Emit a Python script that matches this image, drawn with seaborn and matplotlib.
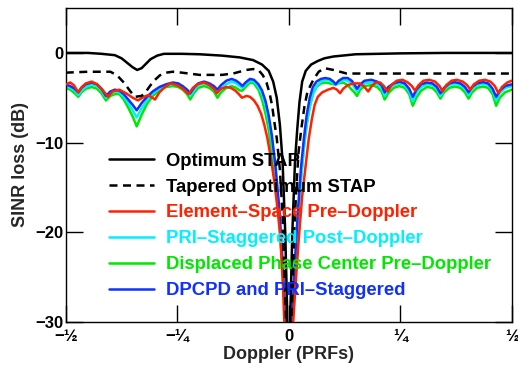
import matplotlib
matplotlib.use("Agg")
import matplotlib.pyplot as plt
import seaborn as sns
import pandas as pd

# Doppler (PRFs) / SINR loss (dB)
opt_f = [-0.5, -0.45, -0.42, -0.39, -0.375, -0.36, -0.35, -0.34, -0.33, -0.32, -0.31, -0.295, -0.28,
         -0.24, -0.2, -0.15, -0.11, -0.08, -0.06, -0.045, -0.035, -0.027, -0.02, -0.014, -0.008, -0.004,
         0.0, 0.004, 0.008, 0.014, 0.019, 0.024, 0.03, 0.038, 0.05, 0.065, 0.08, 0.1, 0.15, 0.25, 0.35, 0.5]
opt_db = [0.0, 0.0, -0.1, -0.25, -0.6, -1.2, -1.6, -1.9, -1.7, -1.2, -0.7, -0.3, -0.1,
          -0.1, -0.15, -0.3, -0.5, -0.8, -1.3, -2.0, -3.2, -5.0, -8.0, -12.0, -20.0, -28.0,
          -40.0, -28.0, -20.0, -12.0, -8.5, -5.5, -3.2, -2.0, -1.3, -0.9, -0.6, -0.4, -0.15, -0.05, 0.0, 0.0]

tap_f = [-0.5, -0.45, -0.40, -0.385, -0.37, -0.355, -0.345, -0.33, -0.32, -0.31, -0.3, -0.289, -0.275,
         -0.26, -0.24, -0.2, -0.15, -0.125, -0.11, -0.095, -0.08, -0.068, -0.058, -0.05, -0.043, -0.037,
         -0.033, -0.027, -0.02, -0.014, -0.006, 0.0, 0.006, 0.012, 0.017, 0.022, 0.028, 0.035, 0.042,
         0.055, 0.067, 0.08, 0.1, 0.13, 0.2, 0.3, 0.4, 0.5]
tap_db = [-2.2, -2.1, -2.1, -2.5, -3.3, -4.3, -4.9, -4.8, -4.3, -3.6, -3.0, -2.5, -2.2,
          -2.1, -2.2, -2.45, -2.45, -2.3, -2.1, -1.9, -1.8, -1.9, -2.5, -3.3, -4.5, -6.0,
          -7.5, -9.5, -13.0, -18.0, -30.0, -40.0, -30.0, -20.0, -15.0, -11.0, -8.5, -6.0, -4.3,
          -3.0, -2.1, -1.7, -1.9, -2.3, -2.3, -2.3, -2.3, -2.3]

es_f = [-0.5, -0.49, -0.482, -0.472, -0.464, -0.455, -0.442, -0.43, -0.418, -0.405, -0.395, -0.38,
        -0.365, -0.35, -0.338, -0.325, -0.315, -0.3, -0.29, -0.278, -0.265, -0.25, -0.237, -0.225,
        -0.215, -0.205, -0.19, -0.178, -0.168, -0.162, -0.152, -0.14, -0.13, -0.12, -0.112, -0.105,
        -0.095, -0.087, -0.078, -0.07, -0.062, -0.055, -0.048, -0.04, -0.032, -0.025, -0.019, -0.013,
        -0.01, -0.004,
        0.004, 0.01, 0.015, 0.022, 0.03, 0.038, 0.045, 0.052, 0.058, 0.065, 0.075, 0.088, 0.1, 0.108,
        0.115, 0.122, 0.132, 0.145, 0.158, 0.168, 0.178, 0.186, 0.195, 0.205, 0.213, 0.222, 0.23,
        0.242, 0.255, 0.267, 0.276, 0.283, 0.291, 0.302, 0.315, 0.328, 0.338, 0.345, 0.353, 0.365,
        0.377, 0.39, 0.4, 0.407, 0.415, 0.427, 0.44, 0.452, 0.462, 0.47, 0.478, 0.49, 0.5]
es_db = [-3.5, -3.3, -3.6, -4.4, -3.8, -3.4, -3.2, -3.5, -4.1, -4.9, -4.3, -4.1,
         -4.5, -5.0, -5.3, -4.9, -4.7, -5.2, -4.4, -3.8, -3.4, -3.6, -4.0, -4.6,
         -3.9, -3.5, -3.3, -3.6, -4.0, -4.5, -4.0, -3.8, -3.9, -4.2, -4.6, -5.0,
         -4.8, -4.9, -5.3, -5.9, -6.8, -8.0, -9.5, -11.8, -14.5, -17.5, -20.5, -26.0,
         -30.0, -40.0,
         -40.0, -30.0, -26.0, -21.0, -16.0, -12.5, -9.5, -7.3, -5.8, -4.9, -4.4, -4.1, -3.9, -4.1,
         -4.5, -4.0, -3.6, -3.4, -3.4, -3.7, -4.3, -3.7, -3.3, -3.3, -3.7, -4.3, -3.6,
         -3.1, -3.0, -3.3, -3.7, -4.2, -3.6, -3.1, -3.0, -3.2, -3.7, -4.3, -3.6, -3.1,
         -3.0, -3.2, -3.6, -4.1, -3.5, -3.1, -3.0, -3.2, -3.7, -4.5, -3.8, -3.3, -3.1]

# shared frequency grid for the three remaining adaptive methods
pd_f = [-0.5, -0.49, -0.48, -0.472, -0.465, -0.455, -0.442, -0.43, -0.42, -0.41, -0.40, -0.39,
        -0.38, -0.37, -0.36, -0.35, -0.341, -0.33, -0.318, -0.305, -0.29, -0.275, -0.26, -0.248,
        -0.238, -0.228, -0.221, -0.213, -0.203, -0.19, -0.178, -0.168, -0.16, -0.152, -0.14, -0.128,
        -0.118, -0.11, -0.104, -0.097, -0.087, -0.078, -0.068, -0.06, -0.052, -0.045, -0.038, -0.03,
        -0.021, -0.013, -0.008, -0.003,
        0.003, 0.008, 0.013, 0.02, 0.027, 0.034, 0.04, 0.047, 0.054, 0.062, 0.072, 0.082, 0.092,
        0.1, 0.105, 0.112, 0.122, 0.132, 0.141, 0.147, 0.153, 0.16, 0.17, 0.185, 0.198, 0.208,
        0.215, 0.223, 0.235, 0.248, 0.26, 0.27, 0.278, 0.286, 0.297, 0.31, 0.322, 0.332, 0.34,
        0.348, 0.36, 0.372, 0.385, 0.395, 0.403, 0.411, 0.422, 0.435, 0.447, 0.457, 0.465, 0.473,
        0.485, 0.5]
dpcpd_db = [-3.5, -3.7, -4.0, -4.4, -3.9, -3.5, -3.3, -3.5, -4.0, -4.8, -4.3, -4.1,
            -4.2, -4.6, -5.2, -5.8, -6.4, -5.6, -4.9, -4.3, -3.8, -3.5, -3.3, -3.4,
            -3.7, -4.1, -4.5, -3.9, -3.4, -3.2, -3.4, -3.7, -4.1, -3.6, -3.1, -2.9,
            -3.1, -3.4, -3.7, -3.3, -2.9, -3.0, -3.5, -4.2, -5.4, -7.0, -9.2, -12.5,
            -17.5, -24.0, -30.0, -40.0,
            -40.0, -30.0, -24.0, -18.0, -13.0, -9.5, -7.0, -5.0, -3.8, -3.2, -2.9, -2.8, -2.9,
            -3.2, -3.5, -3.1, -2.8, -2.8, -3.1, -3.5, -4.0, -3.5, -3.1, -3.0, -3.2, -3.6,
            -4.4, -3.8, -3.4, -3.2, -3.4, -4.0, -4.9, -4.1, -3.5, -3.3, -3.4, -3.8, -4.5,
            -3.9, -3.4, -3.25, -3.4, -3.8, -4.4, -3.8, -3.4, -3.25, -3.4, -4.0, -4.9, -4.2,
            -3.7, -3.5]
pri_db = [-3.7, -3.9, -4.2, -4.7, -4.2, -3.8, -3.5, -3.7, -4.2, -5.0, -4.5, -4.3,
          -4.4, -4.9, -5.6, -6.4, -7.2, -6.2, -5.3, -4.5, -4.0, -3.6, -3.5, -3.6,
          -3.9, -4.3, -4.8, -4.2, -3.6, -3.4, -3.6, -4.0, -4.5, -4.0, -3.5, -3.2,
          -3.4, -3.7, -3.9, -3.5, -3.1, -3.2, -3.8, -4.6, -5.9, -7.6, -9.8, -13.0,
          -18.5, -25.0, -30.0, -40.0,
          -40.0, -30.0, -25.0, -19.0, -14.5, -10.5, -8.0, -6.0, -4.6, -3.7, -3.2, -3.0, -3.1,
          -3.4, -3.6, -3.3, -3.0, -3.1, -3.4, -3.8, -4.3, -3.8, -3.4, -3.3, -3.5, -3.9,
          -4.8, -4.1, -3.6, -3.4, -3.6, -4.3, -5.4, -4.5, -3.8, -3.5, -3.6, -4.0, -4.8,
          -4.1, -3.6, -3.45, -3.6, -4.0, -4.7, -4.0, -3.6, -3.45, -3.6, -4.2, -5.3, -4.5,
          -3.9, -3.7]
dpc_db = [-3.9, -4.1, -4.5, -4.9, -4.4, -4.0, -3.8, -4.0, -4.5, -5.3, -4.8, -4.6,
          -4.6, -5.2, -6.1, -7.1, -8.2, -6.9, -5.7, -4.8, -4.2, -3.8, -3.7, -3.8,
          -4.1, -4.6, -5.2, -4.5, -3.9, -3.7, -3.9, -4.3, -5.0, -4.4, -3.9, -3.7,
          -3.9, -4.2, -4.2, -3.8, -3.3, -3.4, -4.1, -5.2, -6.8, -8.6, -11.0, -14.0,
          -19.0, -25.0, -30.0, -40.0,
          -40.0, -30.0, -25.0, -19.0, -14.0, -10.5, -8.0, -6.0, -4.6, -3.8, -3.4, -3.3, -3.4,
          -3.5, -3.5, -3.4, -3.3, -3.6, -4.1, -4.4, -4.8, -4.1, -3.7, -3.6, -3.8, -4.3,
          -5.2, -4.5, -3.9, -3.7, -3.9, -4.6, -5.9, -5.0, -4.2, -3.8, -3.9, -4.4, -5.1,
          -4.4, -3.9, -3.75, -3.9, -4.4, -5.1, -4.4, -3.9, -3.75, -3.9, -4.6, -5.9, -5.0,
          -4.4, -4.1]

labels = ["Optimum STAP", "Tapered Optimum STAP", "Element\u2013Space Pre\u2013Doppler",
          "PRI\u2013Staggered Post\u2013Doppler", "Displaced Phase Center Pre\u2013Doppler",
          "DPCPD and PRI\u2013Staggered"]
colors = ["black", "black", "#ff2200", "#00f0ff", "#00e800", "#1030ff"]

sns.set_style("ticks")
plt.rcParams["font.family"] = ["Liberation Sans", "DejaVu Sans"]
plt.rcParams["font.weight"] = "bold"
plt.rcParams["axes.labelweight"] = "bold"

fig, ax = plt.subplots(figsize=(5.18, 3.69), dpi=100)
fig.subplots_adjust(left=0.127, right=0.988, bottom=0.128, top=0.978)

series = [(opt_f, opt_db), (tap_f, tap_db), (es_f, es_db),
          (pd_f, pri_db), (pd_f, dpc_db), (pd_f, dpcpd_db)]
zorders = [6, 5, 4, 2, 1, 3]
styles = ["-", (0, (3.2, 2.2)), "-", "-", "-", "-"]

for (f, db), lab, col, z, ls in zip(series, labels, colors, zorders, styles):
    df = pd.DataFrame({"Doppler": f, "loss": db})
    sns.lineplot(data=df, x="Doppler", y="loss", ax=ax, color=col, linewidth=1.8,
                 linestyle=ls, label=lab, sort=False, estimator=None, zorder=z)

ax.set_xlim(-0.5, 0.5)
ax.set_ylim(-30, 5)
ax.set_xticks([-0.5, -0.25, 0, 0.25, 0.5])
ax.set_xticklabels(["\u2212\u00bd", "\u2212\u00bc", "0", "\u00bc", "\u00bd"])
ax.set_yticks([0, -10, -20, -30])
ax.set_yticklabels(["0", "\u221210", "\u221220", "\u221230"])
ax.tick_params(direction="in", length=12, width=1, top=True, right=True, labelsize=12,
               colors="black")
ax.tick_params(axis="x", pad=5)
ax.tick_params(axis="y", pad=2)
for sp in ax.spines.values():
    sp.set_linewidth(1)
    sp.set_color("black")

ax.set_xlabel("Doppler (PRFs)", fontsize=13, labelpad=2)
ax.set_ylabel("SINR loss (dB)", fontsize=13, labelpad=4)

handles, _ = ax.get_legend_handles_labels()
leg = ax.legend(handles, labels, loc="upper left", bbox_to_anchor=(0.21, 0.586),
                bbox_transform=fig.transFigure, frameon=False, fontsize=13.3,
                handlelength=2.45, handletextpad=0.65, labelspacing=0.48,
                borderpad=0, borderaxespad=0, labelcolor=colors)
leg.set_zorder(10)

fig.savefig("out.png", dpi=100)
